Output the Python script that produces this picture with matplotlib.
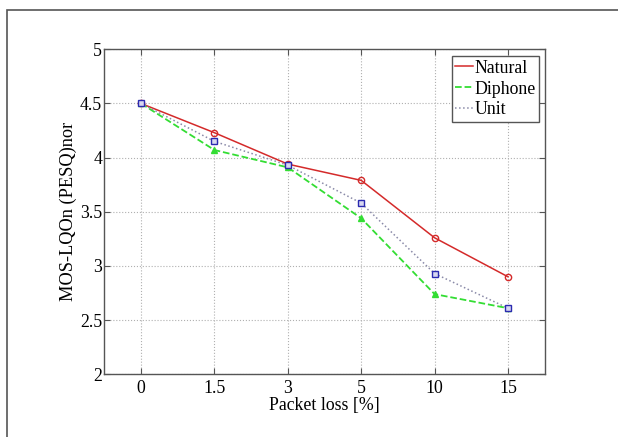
import matplotlib
matplotlib.use('Agg')
import matplotlib.pyplot as plt
from matplotlib.patches import Rectangle

# Packet loss levels and MOS-LQOn scores per synthesis type
loss_labels = ['0', '1.5', '3', '5', '10', '15']
natural = [4.50, 4.23, 3.94, 3.79, 3.26, 2.90]
diphone = [4.50, 4.07, 3.91, 3.44, 2.74, 2.61]
unit = [4.50, 4.15, 3.93, 3.58, 2.93, 2.61]

plt.rcParams['font.family'] = ['Liberation Serif', 'DejaVu Serif']
plt.rcParams['font.size'] = 12.8

fig = plt.figure(figsize=(6.18, 4.37), dpi=100)
ax = fig.add_axes([0.1688, 0.1435, 0.7126, 0.7437])

xpos = list(range(1, len(loss_labels) + 1))

# lines (these carry the legend entries)
ax.plot(xpos, natural, '-', color='#d42a2a', linewidth=1.1, label='Natural')
ax.plot(xpos, diphone, '--', color='#33dd33', linewidth=1.3, label='Diphone')
ax.plot(xpos, unit, ':', color='#8a8aa8', linewidth=1.1, label='Unit')

# markers drawn separately, so they stay out of the legend
ax.plot(xpos, natural, 'o', mfc='none', mec='#d42a2a', ms=4.5, mew=1.0)
ax.plot(xpos, diphone, '^', mfc='#33dd33', mec='#33dd33', ms=4.5)
ax.plot(xpos, unit, 's', mfc='#d8d8f0', mec='#2a2ab0', ms=4, mew=1.0)

ax.set_xlim(0.5, 6.5)
ax.set_ylim(2, 5)
ax.set_xticks(xpos)
ax.set_xticklabels(loss_labels)
ax.set_yticks([2, 2.5, 3, 3.5, 4, 4.5, 5])
ax.set_yticklabels(['2', '2.5', '3', '3.5', '4', '4.5', '5'])
ax.tick_params(direction='in', top=True, right=True, length=4, width=0.8,
               color='#555555')
ax.tick_params(axis='y', pad=1.5)
ax.tick_params(axis='x', pad=4)
ax.grid(True, linestyle=':', color='#b0b0b0', linewidth=0.8)
for sp in ax.spines.values():
    sp.set_color('#555555')
    sp.set_linewidth(1.0)

ax.set_xlabel('Packet loss [%]', labelpad=0)
ax.set_ylabel('MOS-LQOn (PESQ)nor', fontsize=13.2, labelpad=2)

leg = ax.legend(loc='upper right', bbox_to_anchor=(0.988, 0.979), fancybox=False,
                framealpha=1, edgecolor='#555555', handlelength=1.0,
                handletextpad=0.1, borderpad=0.2, labelspacing=0.22,
                borderaxespad=0)
leg.get_frame().set_linewidth(1.0)

# outer page frame
fig.patches.append(Rectangle((7 / 618, -0.1), 1.2, 1 - 10 / 437 + 0.1,
                             transform=fig.transFigure, fill=False,
                             edgecolor='#555555', linewidth=1.2))

fig.savefig('out.png', dpi=100)
